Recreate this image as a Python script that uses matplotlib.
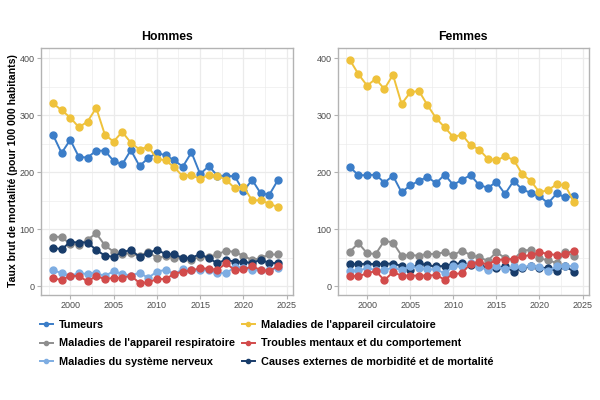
import matplotlib

matplotlib.use('Agg')

import matplotlib.pyplot as plt
from matplotlib.lines import Line2D

plt.rcParams['font.family'] = ['Liberation Sans', 'DejaVu Sans']

# ---------------------------------------------------------------------------
# Data
# ---------------------------------------------------------------------------
years = list(range(1998, 2025))

causes = [
    'Tumeurs',
    "Maladies de l'appareil circulatoire",
    "Maladies de l'appareil respiratoire",
    'Troubles mentaux et du comportement',
    'Maladies du système nerveux',
    'Causes externes de morbidité et de mortalité',
]

colors = ['#3B7DC8', '#EFC23B', '#8E8E8E', '#D24B4B', '#7EADE2', '#183C6A']

hommes_tumeurs = [266, 234, 257, 227, 226, 238, 238, 220, 214, 239, 211, 225, 234, 230,
                  221, 210, 235, 197, 211, 194, 194, 193, 167, 187, 163, 161, 187]
hommes_circ = [321, 309, 296, 279, 289, 313, 266, 254, 271, 252, 240, 245, 224, 221,
               209, 193, 196, 188, 196, 194, 187, 172, 175, 151, 151, 145, 139]
hommes_resp = [87, 87, 74, 73, 82, 93, 72, 61, 56, 59, 53, 61, 50, 53,
               50, 50, 47, 52, 52, 56, 63, 60, 54, 46, 50, 56, 56]
hommes_mental = [15, 11, 19, 18, 9, 18, 13, 15, 15, 19, 6, 7, 13, 13,
                 22, 26, 28, 32, 31, 29, 41, 28, 30, 35, 29, 27, 36]
hommes_nerveux = [29, 23, 19, 23, 22, 24, 18, 27, 22, 19, 24, 15, 26, 29,
                  22, 30, 28, 28, 29, 24, 23, 34, 33, 29, 28, 29, 33]
hommes_externes = [68, 65, 78, 77, 77, 64, 54, 52, 60, 64, 52, 59, 64, 57,
                   56, 50, 50, 57, 49, 41, 47, 43, 43, 41, 47, 41, 41]

femmes_tumeurs = [209, 195, 195, 196, 182, 194, 165, 177, 185, 192, 181, 196, 178, 187,
                  195, 178, 173, 183, 162, 185, 170, 164, 158, 146, 163, 156, 159]
femmes_circ = [397, 372, 352, 364, 346, 371, 320, 340, 343, 318, 295, 279, 262, 266,
               248, 240, 224, 221, 228, 222, 197, 185, 165, 169, 179, 177, 148]
femmes_resp = [61, 76, 58, 57, 80, 77, 54, 55, 54, 57, 57, 60, 55, 63,
               55, 51, 45, 60, 50, 47, 63, 64, 49, 46, 41, 61, 53]
femmes_mental = [19, 18, 23, 27, 11, 25, 19, 19, 19, 19, 20, 12, 22, 23,
                 40, 43, 38, 47, 47, 48, 53, 55, 60, 57, 55, 57, 63]
femmes_nerveux = [27, 28, 32, 29, 29, 33, 29, 35, 32, 30, 30, 23, 35, 35,
                  41, 34, 29, 35, 30, 35, 34, 36, 34, 27, 35, 35, 36]
femmes_externes = [39, 39, 40, 39, 40, 40, 36, 29, 41, 37, 35, 36, 39, 41,
                   37, 39, 32, 32, 35, 26, 32, 35, 33, 32, 27, 35, 26]

hommes = [hommes_tumeurs, hommes_circ, hommes_resp, hommes_mental, hommes_nerveux, hommes_externes]
femmes = [femmes_tumeurs, femmes_circ, femmes_resp, femmes_mental, femmes_nerveux, femmes_externes]

panel_titles = ['Hommes', 'Femmes']
x_ticks = [2000, 2005, 2010, 2015, 2020, 2025]
y_ticks = [0, 100, 200, 300, 400]

# draw order: later series on top
draw_order = [2, 5, 4, 3, 0, 1]

GRID = '#EBEBEB'
BORDER = '#B3B3B3'
TICKLAB = '#4D4D4D'

fig = plt.figure(figsize=(6, 4), dpi=100)
ax_l = fig.add_axes([0.068, 0.2625, 0.420, 0.6175])
ax_r = fig.add_axes([0.563, 0.2625, 0.418, 0.6175])

for ax, data, title in zip((ax_l, ax_r), (hommes, femmes), panel_titles):
    for i in draw_order:
        ax.plot(years, data[i], color=colors[i], linewidth=1.4,
                marker='o', markersize=5, zorder=3)
    ax.set_xlim(1996.6, 2025.7)
    ax.set_ylim(-15, 418)
    ax.set_xticks(x_ticks)
    ax.set_yticks(y_ticks)
    ax.set_xticks([1997.5, 2002.5, 2007.5, 2012.5, 2017.5, 2022.5], minor=True)
    ax.set_yticks([50, 150, 250, 350], minor=True)
    ax.grid(True, which='major', color=GRID, linewidth=0.9, zorder=0)
    ax.grid(True, which='minor', color=GRID, linewidth=0.45, zorder=0)
    ax.tick_params(which='major', length=3, color=BORDER, labelsize=6.5,
                   labelcolor=TICKLAB, pad=1.5)
    ax.tick_params(which='minor', length=0)
    for s in ax.spines.values():
        s.set_color(BORDER)
        s.set_linewidth(1.0)
    ax.set_axisbelow(True)
    ax.set_title(title, fontsize=8.8, fontweight='bold', pad=6)

fig.text(0.022, 0.5725, 'Taux brut de mortalité (pour 100 000 habitants)',
         rotation=90, ha='center', va='center', fontsize=7.6, fontweight='bold')

handles = [Line2D([0], [0], color=c, marker='o', markersize=3, linewidth=1.4)
           for c in colors]
# column-major ordering: left column Tumeurs, Respiratoire, Nerveux
order = [0, 2, 4, 1, 3, 5]
fig.legend([handles[i] for i in order], [causes[i] for i in order],
           loc='upper left', bbox_to_anchor=(0.05, 0.224), ncol=2,
           frameon=False, handlelength=1.2, handletextpad=0.6,
           columnspacing=0.6, labelspacing=0.76,
           prop={'weight': 'bold', 'size': 7.8})

fig.savefig('out.png', dpi=100)
